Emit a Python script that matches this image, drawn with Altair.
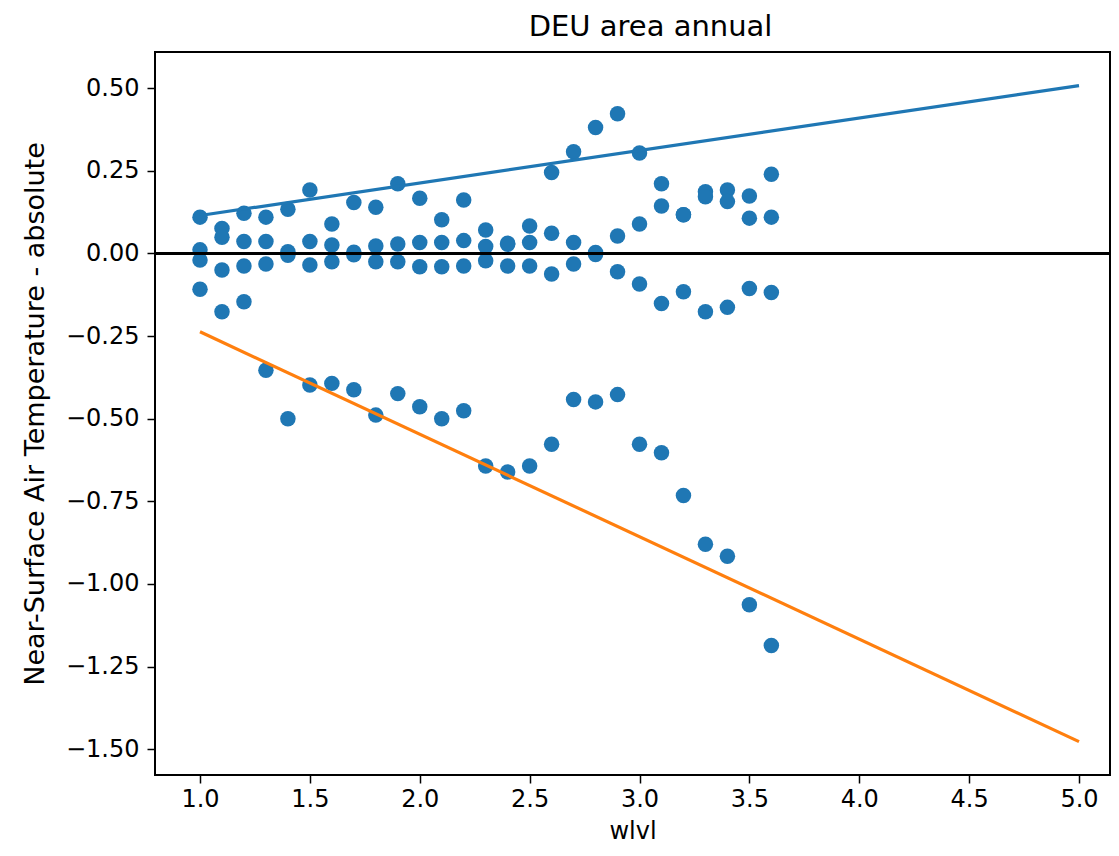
import altair as alt
import pandas as pd

# wlvl positions of the scatter points
wlvl = [1.0, 1.1, 1.2, 1.3, 1.4, 1.5, 1.6, 1.7, 1.8, 1.9, 2.0, 2.1, 2.2, 2.3,
        2.4, 2.5, 2.6, 2.7, 2.8, 2.9, 3.0, 3.1, 3.2, 3.3, 3.4, 3.5, 3.6]

# four groups of values per wlvl
s_top = [0.110, 0.076, 0.122, 0.110, 0.134, 0.192, 0.089, 0.154, 0.140, 0.211,
         0.167, 0.102, 0.162, 0.071, 0.031, 0.083, 0.245, 0.308, 0.381, 0.423,
         0.304, 0.211, 0.117, 0.187, 0.192, 0.174, 0.240]
s_pos = [0.011, 0.049, 0.036, 0.036, 0.005, 0.036, 0.026, 0.004, 0.023, 0.029,
         0.033, 0.033, 0.039, 0.021, 0.028, 0.033, 0.061, 0.033, 0.003, 0.053,
         0.089, 0.144, 0.117, 0.172, 0.157, 0.107, 0.110]
s_neg = [-0.020, -0.050, -0.038, -0.032, -0.005, -0.035, -0.025, -0.004, -0.025, -0.025,
         -0.040, -0.040, -0.038, -0.022, -0.038, -0.038, -0.062, -0.032, -0.003, -0.055,
         -0.092, -0.151, -0.116, -0.176, -0.163, -0.106, -0.118]
s_low = [-0.108, -0.176, -0.146, -0.353, -0.500, -0.398, -0.393, -0.412, -0.489, -0.424,
         -0.464, -0.500, -0.476, -0.643, -0.661, -0.643, -0.577, -0.442, -0.449, -0.427,
         -0.577, -0.603, -0.732, -0.880, -0.916, -1.063, -1.186]

# fitted lines
fit_x = [1.0, 5.0]
fit_blue = [0.115, 0.508]
fit_orange = [-0.237, -1.477]

zero_y = [0.0]

x_ticks = [1.0, 1.5, 2.0, 2.5, 3.0, 3.5, 4.0, 4.5, 5.0]
y_ticks = [-1.5, -1.25, -1.0, -0.75, -0.5, -0.25, 0.0, 0.25, 0.5]

rows = []
for series in (s_top, s_pos, s_neg, s_low):
    for xv, yv in zip(wlvl, series):
        rows.append({"x": xv, "y": yv})
pts = pd.DataFrame(rows)
blue_df = pd.DataFrame({"x": fit_x, "y": fit_blue})
orange_df = pd.DataFrame({"x": fit_x, "y": fit_orange})
zero_df = pd.DataFrame({"y": zero_y})

FONT = "DejaVu Sans"

xscale = alt.Scale(domain=[0.7952, 5.141], nice=False, zero=False)
yscale = alt.Scale(domain=[-1.578, 0.6097], nice=False, zero=False)

xaxis = alt.Axis(title="wlvl", values=x_ticks, format=".1f", grid=False,
                 domain=False, tickColor="black", tickWidth=1.5, tickSize=8,
                 labelFont=FONT, labelFontSize=24, labelColor="black",
                 labelPadding=4, titleFont=FONT, titleFontSize=24,
                 titleFontWeight="normal", titleColor="black", titlePadding=8)
yaxis = alt.Axis(title="Near-Surface Air Temperature - absolute", values=y_ticks,
                 format=".2f", grid=False, domain=False, tickColor="black",
                 tickWidth=1.5, tickSize=8, labelFont=FONT, labelFontSize=24,
                 labelColor="black", labelPadding=8, titleFont=FONT,
                 titleFontSize=27, titleFontWeight="normal", titleColor="black",
                 titlePadding=16)

points = alt.Chart(pts).mark_point(filled=True, opacity=1, size=240,
                                   color="#1f77b4", strokeWidth=0).encode(
    x=alt.X("x:Q", scale=xscale, axis=xaxis),
    y=alt.Y("y:Q", scale=yscale, axis=yaxis),
)

zero = alt.Chart(zero_df).mark_rule(color="black", strokeWidth=3).encode(
    y=alt.Y("y:Q", scale=yscale)
)

blue = alt.Chart(blue_df).mark_line(color="#1f77b4", strokeWidth=3.2).encode(
    x=alt.X("x:Q", scale=xscale), y=alt.Y("y:Q", scale=yscale)
)
orange = alt.Chart(orange_df).mark_line(color="#ff7f0e", strokeWidth=3.2).encode(
    x=alt.X("x:Q", scale=xscale), y=alt.Y("y:Q", scale=yscale)
)

chart = alt.layer(points, zero, blue, orange).properties(
    width=955,
    height=723,
    title=alt.TitleParams("DEU area annual", font=FONT, fontSize=29,
                          fontWeight="normal", color="black", anchor="middle",
                          offset=10, dx=18),
    autosize=alt.AutoSizeParams(type="none"),
    padding={"left": 147, "top": 44, "right": 1, "bottom": 73},
).configure(background="white").configure_view(stroke="black", strokeWidth=2)

chart.save("out.html", embed_options={"renderer": "svg", "actions": False})
